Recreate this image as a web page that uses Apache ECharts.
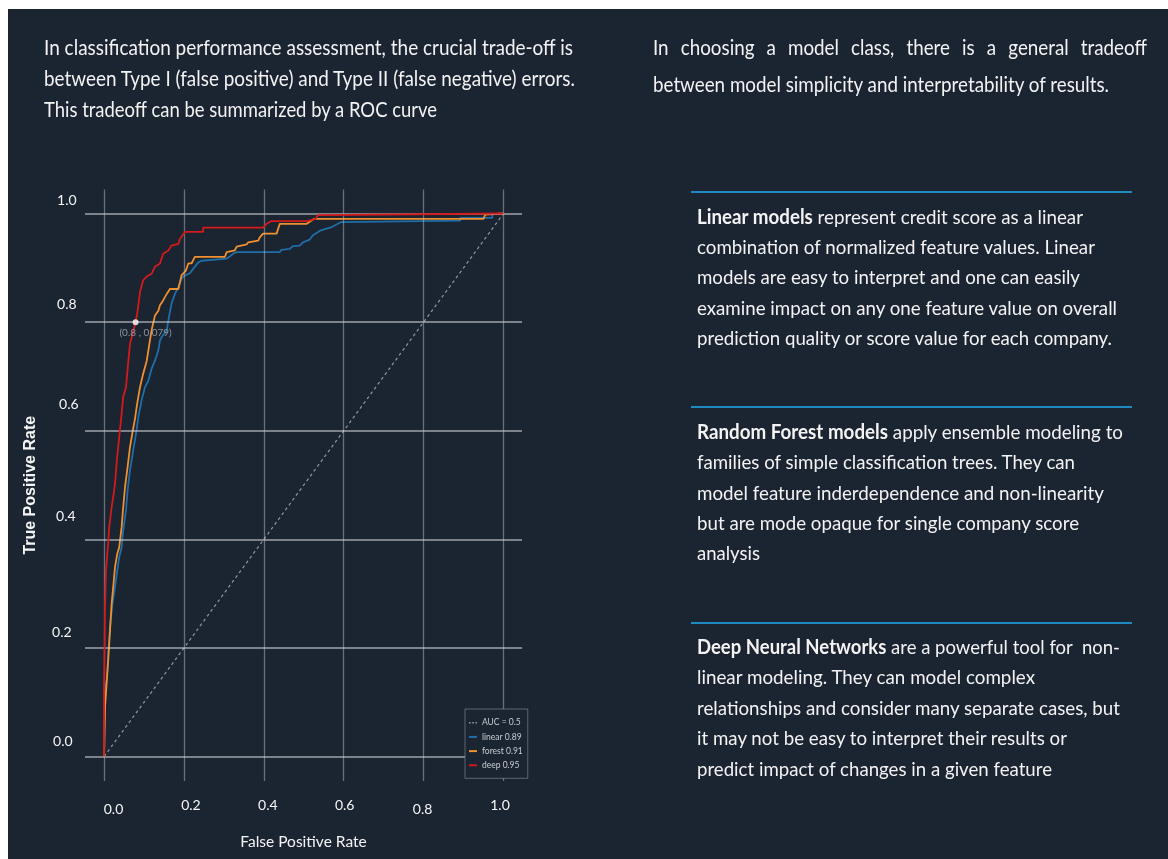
<!DOCTYPE html>
<html>
<head>
<meta charset="utf-8">
<script src="https://cdn.jsdelivr.net/npm/echarts@6/dist/echarts.min.js"></script>
<style>
  html,body{margin:0;padding:0;width:1168px;height:859px;overflow:hidden;background:#ffffff;position:relative;}
  #bg{position:absolute;left:8px;top:9px;right:0;bottom:0;background:#1b2431;}
  #chart{position:absolute;left:0;top:0;width:1168px;height:859px;z-index:1;}
  .ln{position:absolute;white-space:pre;color:#f3f3f3;font-family:Lato,"Open Sans",sans-serif;line-height:1.2;transform-origin:0 0;z-index:2;}
  .ln b{font-weight:700;}
  .probe{display:inline-block;width:0;height:0;vertical-align:baseline;}
  .rule{position:absolute;left:691px;width:441px;height:2px;background:#2189c2;z-index:2;}
</style>
</head>
<body>
<div id="bg"></div>
<div id="chart"></div>

<div class="ln" data-x="44" data-b="55" data-w="529" data-s="21">In classification performance assessment, the crucial trade-off is</div>
<div class="ln" data-x="44" data-b="86" data-w="531" data-s="21">between Type I (false positive) and Type II (false negative) errors.</div>
<div class="ln" data-x="44" data-b="117" data-w="393" data-s="21">This tradeoff can be summarized by a ROC curve</div>

<div class="ln" id="tr2" data-x="653" data-b="91.5" data-w="456" data-s="21">between model simplicity and interpretability of results.</div>
<div class="ln just" data-ref="tr2" data-x="653" data-b="55" data-w="494" data-s="21">In choosing a model class, there is a general tradeoff</div>

<div class="rule" style="top:191px"></div>
<div class="ln" data-x="697" data-b="224" data-w="386" data-s="20"><b>Linear models</b> represent credit score as a linear</div>
<div class="ln" data-x="697" data-b="254.2" data-w="398" data-s="20">combination of normalized feature values. Linear</div>
<div class="ln" data-x="697" data-b="284.4" data-w="383" data-s="20">models are easy to interpret and one can easily</div>
<div class="ln" data-x="697" data-b="314.6" data-w="420" data-s="20">examine impact on any one feature value on overall</div>
<div class="ln" data-x="697" data-b="344.8" data-w="415" data-s="20">prediction quality or score value for each company.</div>

<div class="rule" style="top:406px"></div>
<div class="ln" data-x="697" data-b="439" data-w="426" data-s="20"><b>Random Forest models</b> apply ensemble modeling to</div>
<div class="ln" data-x="697" data-b="469.3" data-w="378" data-s="20">families of simple classification trees. They can</div>
<div class="ln" data-x="697" data-b="499.6" data-w="407" data-s="20">model feature inderdependence and non-linearity</div>
<div class="ln" data-x="697" data-b="529.9" data-w="382" data-s="20">but are mode opaque for single company score</div>
<div class="ln" data-x="697" data-b="560.2" data-w="63" data-s="20">analysis</div>

<div class="rule" style="top:622px"></div>
<div class="ln" data-x="697" data-b="654" data-w="423" data-s="20"><b>Deep Neural Networks</b> are a powerful tool for  non-</div>
<div class="ln" data-x="697" data-b="684.4" data-w="338" data-s="20">linear modeling. They can model complex</div>
<div class="ln" data-x="697" data-b="714.8" data-w="423" data-s="20">relationships and consider many separate cases, but</div>
<div class="ln" data-x="697" data-b="745.2" data-w="370" data-s="20">it may not be easy to interpret their results or</div>
<div class="ln" data-x="697" data-b="775.6" data-w="355" data-s="20">predict impact of changes in a given feature</div>

<script>
// ---------- data ----------
const tickValues = [0, 0.2, 0.4, 0.6, 0.8, 1.0];
const tickLabels = ['0.0', '0.2', '0.4', '0.6', '0.8', '1.0'];
const seriesNames = ['AUC = 0.5', 'linear 0.89', 'forest 0.91', 'deep 0.95'];

const chanceRoc = [[0, 0], [1, 1]];

const linearRoc = [[0,0],[0.0025,0.128],[0.007,0.14],[0.011,0.195],[0.015,0.238],[0.021,0.281],[0.0275,0.312],[0.032,0.336],[0.038,0.367],[0.044,0.385],[0.048,0.416],[0.055,0.453],[0.059,0.49],[0.065,0.527],[0.073,0.564],[0.08,0.594],[0.086,0.625],[0.094,0.656],[0.1025,0.68],[0.111,0.692],[0.119,0.714],[0.1275,0.729],[0.136,0.748],[0.14,0.766],[0.144,0.772],[0.157,0.785],[0.161,0.803],[0.169,0.834],[0.1775,0.852],[0.186,0.864],[0.194,0.88],[0.2025,0.886],[0.215,0.89],[0.223,0.898],[0.236,0.91],[0.244,0.913],[0.307,0.917],[0.315,0.921],[0.323,0.926],[0.332,0.929],[0.44,0.929],[0.444,0.933],[0.465,0.935],[0.473,0.94],[0.49,0.941],[0.498,0.947],[0.515,0.952],[0.523,0.96],[0.536,0.966],[0.5425,0.969],[0.57,0.975],[0.5925,0.984],[0.5925,0.987],[0.892,0.987],[0.892,0.992],[0.972,0.992],[0.972,0.999],[1,1]];

const forestRoc = [[0,0],[0.0025,0.091],[0.007,0.14],[0.011,0.183],[0.015,0.232],[0.019,0.281],[0.023,0.312],[0.0275,0.349],[0.033,0.373],[0.038,0.385],[0.044,0.422],[0.048,0.459],[0.0525,0.496],[0.059,0.533],[0.065,0.57],[0.072,0.6],[0.0775,0.622],[0.083,0.65],[0.09,0.68],[0.098,0.705],[0.107,0.729],[0.113,0.757],[0.119,0.785],[0.1275,0.812],[0.136,0.821],[0.14,0.831],[0.148,0.84],[0.157,0.852],[0.165,0.861],[0.186,0.861],[0.19,0.873],[0.194,0.886],[0.205,0.895],[0.211,0.908],[0.219,0.908],[0.2275,0.92],[0.3025,0.92],[0.307,0.929],[0.3275,0.932],[0.332,0.939],[0.357,0.943],[0.361,0.947],[0.386,0.95],[0.39,0.956],[0.398,0.963],[0.432,0.963],[0.44,0.981],[0.5075,0.981],[0.525,0.99],[0.95,0.99],[0.954,0.998],[1,1]];

const deepRoc = [[0,0],[0,0.12],[0.0025,0.275],[0.005,0.343],[0.011,0.398],[0.013,0.422],[0.019,0.459],[0.023,0.478],[0.0275,0.502],[0.032,0.545],[0.038,0.588],[0.044,0.631],[0.048,0.662],[0.055,0.68],[0.061,0.729],[0.065,0.76],[0.072,0.78],[0.079,0.8],[0.083,0.815],[0.09,0.855],[0.098,0.877],[0.107,0.884],[0.119,0.889],[0.1275,0.902],[0.14,0.908],[0.148,0.926],[0.161,0.932],[0.169,0.941],[0.186,0.944],[0.19,0.953],[0.2025,0.966],[0.248,0.966],[0.248,0.974],[0.398,0.974],[0.407,0.981],[0.419,0.986],[0.5075,0.986],[0.53,0.99],[0.535,0.997],[1,1]];

const markedPoint = [[0.079, 0.8]];
const markedLabel = '(0.8 , 0.079)';

// ---------- text layout helper ----------
function layoutLines(){
  const els = Array.from(document.querySelectorAll('.ln'));
  const scales = {};
  const place = (el, justRef) => {
    el.style.fontSize = el.dataset.s + 'px';
    el.style.left = el.dataset.x + 'px';
    el.style.top = '0px';
    el.style.transform = 'none';
    let probe = el.querySelector('.probe');
    if (!probe) { probe = document.createElement('span'); probe.className = 'probe'; el.appendChild(probe); }
    let sc;
    if (justRef) {
      sc = scales[justRef];
      el.style.whiteSpace = 'normal';
      el.style.width = (+el.dataset.w / sc) + 'px';
      el.style.textAlign = 'justify';
      el.style.textAlignLast = 'justify';
    } else {
      const w = el.getBoundingClientRect().width;
      sc = (+el.dataset.w) / w;
    }
    const r = el.getBoundingClientRect();
    const base = probe.getBoundingClientRect().top - r.top;
    el.style.top = (+el.dataset.b - base) + 'px';
    el.style.transform = 'scaleX(' + sc + ')';
    if (el.id) scales[el.id] = sc;
  };
  els.filter(e => !e.classList.contains('just')).forEach(e => place(e, null));
  els.filter(e => e.classList.contains('just')).forEach(e => place(e, e.dataset.ref));
}
layoutLines();
if (document.fonts && document.fonts.ready) document.fonts.ready.then(layoutLines);

// ---------- chart ----------
const chart = echarts.init(document.getElementById('chart'), null, {renderer: 'canvas'});
const labelFont = "Lato, sans-serif";

const xRich = {
  x0: {padding: [4.5, 0, 0, 19]}, x1: {padding: [0, 0, 0, 14]}, x2: {padding: [0, 0, 0, 8]},
  x3: {padding: [0, 0, 0, 2]}, x4: {padding: [4.5, 2, 0, 0]}, x5: {padding: [0, 7, 0, 0]}
};
const yRich = {
  y0: {padding: [0, 6, 31, 0]}, y1: {padding: [0, 7, 32, 0]}, y2: {padding: [0, 3, 45, 0]},
  y3: {padding: [0, 0, 53, 0]}, y4: {padding: [0, 2, 36, 0]}, y5: {padding: [0, 2, 27, 0]}
};
Object.values(xRich).concat(Object.values(yRich)).forEach(s => {
  s.color = '#f6f6f6'; s.fontSize = 14; s.fontFamily = labelFont;
});
const idxOf = v => tickValues.findIndex(t => Math.abs(t - v) < 1e-6);

const gridLineV = {color: 'rgba(200,204,210,0.45)', width: 1.3, type: 'solid'};
const gridLineH = {color: 'rgba(205,208,214,0.55)', width: 2, type: 'solid'};

const lineIcon = 'rect';
const dotIcon = 'path://M0,0h2v2h-2z M4,0h2v2h-2z M8,0h2v2h-2z';

chart.setOption({
  animation: false,
  backgroundColor: 'transparent',
  grid: {left: 85, top: 189.5, width: 437, height: 591.5, containLabel: false},
  legend: {
    z: 20,
    data: [
      {name: seriesNames[0], icon: dotIcon},
      {name: seriesNames[1], icon: lineIcon},
      {name: seriesNames[2], icon: lineIcon},
      {name: seriesNames[3], icon: lineIcon}
    ],
    orient: 'vertical',
    left: 465, top: 709,
    itemWidth: 8, itemHeight: 2, itemGap: 4.2,
    padding: [8.7, 5, 8, 4],
    borderColor: 'rgba(150,155,162,0.55)', borderWidth: 1, borderRadius: 0,
    backgroundColor: '#1b2431',
    textStyle: {color: '#c9cdd2', fontSize: 8.5, lineHeight: 10, fontFamily: labelFont},
    selectedMode: false
  },
  xAxis: {
    type: 'value', min: -0.0476, max: 1.0463,
    name: 'False Positive Rate', nameLocation: 'middle', nameGap: 53,
    nameTextStyle: {color: '#f4f4f4', fontSize: 15.5, fontFamily: labelFont},
    axisLine: {show: false, onZero: false}, axisTick: {show: false}, splitLine: {show: false},
    axisLabel: {
      customValues: tickValues, margin: 17, color: '#f6f6f6', fontSize: 14, fontFamily: labelFont,
      formatter: v => { const i = idxOf(v); return i < 0 ? '' : '{x' + i + '|' + tickLabels[i] + '}'; },
      rich: xRich
    }
  },
  yAxis: {
    type: 'value', min: -0.0449, max: 1.0442,
    name: 'True Positive Rate', nameLocation: 'middle', nameGap: 46,
    nameTextStyle: {color: '#f4f4f4', fontSize: 16, fontWeight: 'bold', fontFamily: "'Liberation Sans', Arial, sans-serif"},
    axisLine: {show: false, onZero: false}, axisTick: {show: false}, splitLine: {show: false},
    axisLabel: {
      customValues: tickValues, margin: 6.4, color: '#f6f6f6', fontSize: 14, fontFamily: labelFont,
      formatter: v => { const i = idxOf(v); return i < 0 ? '' : '{y' + i + '|' + tickLabels[i] + '}'; },
      rich: yRich
    }
  },
  series: [
    {
      name: 'gridlines', type: 'line', data: [], z: 1, silent: true,
      markLine: {
        silent: true, symbol: ['none', 'none'], label: {show: false}, animation: false,
        data: tickValues.map(v => ({xAxis: v, lineStyle: gridLineV}))
          .concat(tickValues.map(v => ({yAxis: v, lineStyle: gridLineH})))
      }
    },
    {
      name: seriesNames[0], type: 'line', data: chanceRoc, symbol: 'none', z: 2,
      lineStyle: {color: '#8e959e', width: 1.2, type: [3, 3]}, itemStyle: {color: '#8e959e'}
    },
    {
      name: seriesNames[1], type: 'line', data: linearRoc, symbol: 'none', z: 3,
      lineStyle: {color: '#1f6ea8', width: 1.8}, itemStyle: {color: '#1f6ea8'}
    },
    {
      name: seriesNames[2], type: 'line', data: forestRoc, symbol: 'none', z: 4,
      lineStyle: {color: '#f0902e', width: 1.8}, itemStyle: {color: '#f0902e'}
    },
    {
      name: seriesNames[3], type: 'line', data: deepRoc, symbol: 'none', z: 5,
      lineStyle: {color: '#d41a1a', width: 1.8}, itemStyle: {color: '#d41a1a'}
    },
    {
      name: 'marked', type: 'scatter', data: markedPoint, z: 6, symbolSize: 6,
      itemStyle: {color: '#ffffff'},
      label: {show: true, position: 'bottom', distance: 3, offset: [10, 0], formatter: markedLabel,
              color: '#a9b0b8', fontSize: 10, fontFamily: labelFont}
    }
  ]
});
</script>
</body>
</html>
